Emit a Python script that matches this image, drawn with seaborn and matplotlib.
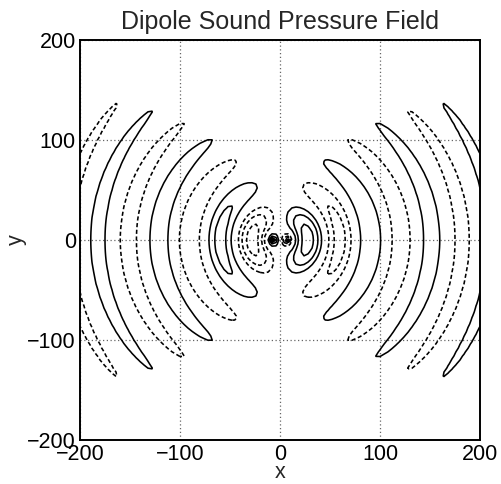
import numpy as np
import matplotlib
matplotlib.use("Agg")
import matplotlib.pyplot as plt
import seaborn as sns

# values
wave_number = 0.1033      # wavelength ~61 units
source_spacing = 14.0     # the two opposite-phase sources sit at x = -7 and x = +7
level_step = 0.19
n_levels = 16
grid_step = 4.0
axis_limits = [-200, 200]
tick_values = [-200, -100, 0, 100, 200]
title_text = "Dipole Sound Pressure Field"


def bessel_j0_y0(z):
    # integral forms of J0 and Y0 (no scipy here)
    tau = np.linspace(0, np.pi, 1501)
    arg = z[:, None] * np.sin(tau[None, :])
    j0 = np.trapezoid(np.cos(arg), tau, axis=1) / np.pi
    y_a = np.trapezoid(np.sin(arg), tau, axis=1) / np.pi
    t = np.linspace(0, 12, 3001)
    y_b = np.trapezoid(np.exp(-z[:, None] * np.sinh(t[None, :])), t, axis=1)
    return j0, y_a - 2 * y_b / np.pi


z_tab = np.geomspace(0.001, 32, 1500)
j0_tab, y0_tab = bessel_j0_y0(z_tab)
f_tab = j0_tab + y0_tab

xs = np.arange(axis_limits[0], axis_limits[1] + grid_step, grid_step)
X, Y = np.meshgrid(xs, xs)
r_right = np.hypot(X - source_spacing / 2, Y)
r_left = np.hypot(X + source_spacing / 2, Y)

pressure = (np.interp(wave_number * r_right, z_tab, f_tab)
            - np.interp(wave_number * r_left, z_tab, f_tab))
pressure = pressure / (2 * np.sin(wave_number * source_spacing / 2))

pos_levels = level_step * np.arange(1, n_levels + 1)
levels = np.concatenate([-pos_levels[::-1], pos_levels])

sns.set_style("white")
plt.rcParams["font.family"] = ["Liberation Sans", "DejaVu Sans"]

fig = plt.figure(figsize=(5.01, 4.84), dpi=100)
ax = fig.add_axes([80 / 501, 44 / 484, 400 / 501, 400 / 484])

ax.grid(True, linestyle=(0, (1, 2)), color="0.4", linewidth=0.9)
ax.set_axisbelow(True)

ax.contour(
    X,
    Y,
    pressure,
    levels=levels,
    colors="k",
    linewidths=1.15,
    negative_linestyles=(0, (2.6, 1.6)),
)

ax.set_xlim(axis_limits)
ax.set_ylim(axis_limits)
ax.set_xticks(tick_values)
ax.set_yticks(tick_values)
ax.tick_params(direction="in", length=4, width=1, labelsize=15.5, pad=3,
               colors="k", top=False, right=False)
for side in ax.spines.values():
    side.set_color("k")
    side.set_linewidth(1.4)

ax.set_xlabel("x", fontsize=15.5, labelpad=-2)
ax.set_ylabel("y", fontsize=15.5, labelpad=0)
ax.set_title(title_text, fontsize=18, pad=8)

fig.savefig("out.png", dpi=100)
